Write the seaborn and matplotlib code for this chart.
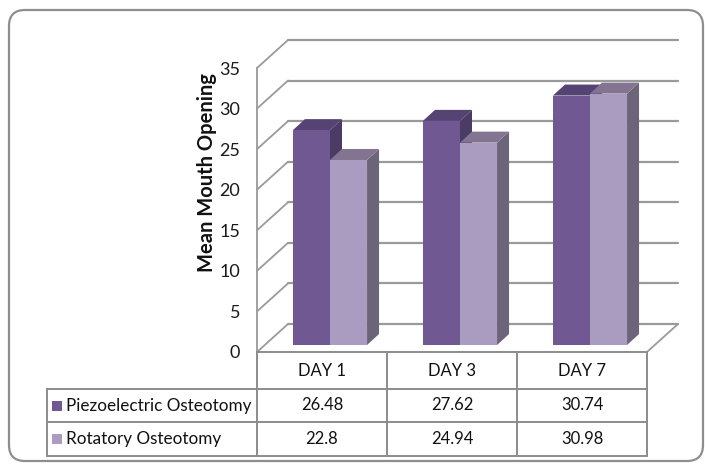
import matplotlib
matplotlib.use("Agg")
import matplotlib.pyplot as plt
import numpy as np
import pandas as pd
import seaborn as sns
from matplotlib.lines import Line2D
from matplotlib.patches import Polygon, Rectangle, FancyBboxPatch
from matplotlib.transforms import IdentityTransform, ScaledTranslation

# ---- data -------------------------------------------------------------
days = ["DAY 1", "DAY 3", "DAY 7"]
groups = ["Piezoelectric Osteotomy", "Rotatory Osteotomy"]
piezo = [26.48, 27.62, 30.74]
rotatory = [22.8, 24.94, 30.98]
y_ticks = [0, 5, 10, 15, 20, 25, 30, 35]
y_label = "Mean Mouth Opening"

# ---- style ------------------------------------------------------------
sns.set_theme(style="white")
plt.rcParams["font.family"] = ["Lato", "DejaVu Sans"]

front_cols = ["#705893", "#AA9BC0"]
top_cols = ["#544373", "#837492"]
side_cols = ["#4B3C66", "#6C6479"]
grid_col = "#9a9a9a"
table_col = "#8c8c8c"

W, H = 705, 466
fig = plt.figure(figsize=(W / 100, H / 100), dpi=100)
fig.patch.set_facecolor("white")
ID = IdentityTransform()


def P(x, y):
    """top-left pixel coordinates -> display coordinates"""
    return (x, H - y)


# rounded chart frame
frame = FancyBboxPatch(P(9, 461), 694, 451, boxstyle="round,pad=0,rounding_size=16",
                       transform=ID, fill=False, edgecolor="#8e8e8e", linewidth=1.6)
fig.add_artist(frame)

# front plane of the 3-D plot area
ax = fig.add_axes([257 / W, (H - 352) / H, 390 / W, 284 / H])
ax.patch.set_visible(False)

df = pd.DataFrame({
    "day": days * 2,
    "value": piezo + rotatory,
    "group": [groups[0]] * 3 + [groups[1]] * 3,
})
sns.barplot(data=df, x="day", y="value", hue="group", hue_order=groups,
            palette=front_cols, width=0.57, saturation=1, linewidth=0,
            errorbar=None, legend=False, ax=ax)
ax.set_xlim(-0.5, 2.5)
ax.set_ylim(0, 35)
ax.set_xlabel("")
ax.set_ylabel("")
ax.set_xticks([])
ax.set_yticks(y_ticks)
ax.set_yticklabels([str(t) for t in y_ticks], fontsize=13, color="#1a1a1a")
ax.tick_params(axis="y", length=0, pad=12)
for s in ["top", "right", "bottom"]:
    ax.spines[s].set_visible(False)
ax.spines["left"].set_color(grid_col)
ax.spines["left"].set_linewidth(1.3)

# depth geometry (pixels)
DX, DY = 31, 28          # floor / wall depth
BX, BY = 8, 7            # bars sit a little behind the front plane
EX, EY = 12, 11          # bar thickness

fig.canvas.draw()
tr = ax.transData


def disp(x, y):
    return tr.transform((x, y))


# walls and floor
x_left, x_right = -0.5, 2.5
for v in y_ticks:
    fx, fy = disp(x_left, v)
    ax.add_artist(Line2D([fx, fx + DX], [fy, fy + DY], transform=ID,
                         color=grid_col, lw=1.3, zorder=0.5, clip_on=False))
    rx, _ = disp(x_right, v)
    ax.add_artist(Line2D([fx + DX, rx + DX], [fy + DY, fy + DY], transform=ID,
                         color=grid_col, lw=1.6, zorder=0.5, clip_on=False))
rx, ry = disp(x_right, 0)
ax.add_artist(Line2D([rx, rx + DX], [ry, ry + DY], transform=ID,
                     color=grid_col, lw=1.3, zorder=0.5, clip_on=False))

# extrude the bars
shift = ScaledTranslation(BX / 100, BY / 100, fig.dpi_scale_trans)
bars = sorted(ax.patches, key=lambda p: p.get_x())
for i, bar in enumerate(bars):
    k = 0 if bar.get_facecolor()[0] < 0.55 else 1
    bar.set_transform(ax.transData + shift)
    bar.set_clip_on(False)
    z = 2 + i * 0.1
    bar.set_zorder(z + 0.05)
    bb = bar.get_window_extent()
    x0, y0, x1, y1 = bb.x0, bb.y0, bb.x1, bb.y1
    side = Polygon([(x1, y0), (x1 + EX, y0 + EY), (x1 + EX, y1 + EY), (x1, y1)],
                   closed=True, transform=ID, facecolor=side_cols[k],
                   edgecolor="none", zorder=z, clip_on=False)
    top = Polygon([(x0, y1), (x1, y1), (x1 + EX, y1 + EY), (x0 + EX, y1 + EY)],
                  closed=True, transform=ID, facecolor=top_cols[k],
                  edgecolor="none", zorder=z, clip_on=False)
    ax.add_artist(side)
    ax.add_artist(top)

# axis title
fig.text(207 / W, (H - 173) / H, y_label, rotation=90, ha="center", va="center",
         fontsize=14.5, fontweight="bold", color="#111111")

# ---- data table ---------------------------------------------------------
col_edges = [disp(x, 0)[0] for x in [-0.5, 0.5, 1.5, 2.5]]
t_left = 47
r_top, r_h, r1, r2 = 352, 389, 422, 456


def hline(xa, xb, y):
    fig.add_artist(Line2D([xa, xb], [H - y, H - y], transform=ID,
                          color=table_col, lw=1.4))


def vline(x, ya, yb):
    fig.add_artist(Line2D([x, x], [H - ya, H - yb], transform=ID,
                          color=table_col, lw=1.4))


hline(col_edges[0], col_edges[-1], r_top)
hline(t_left, col_edges[-1], r_h)
hline(t_left, col_edges[-1], r1)
hline(t_left, col_edges[-1], r2)
vline(t_left, r_h, r2)
for cx in col_edges:
    vline(cx, r_top, r2)

for i, d in enumerate(days):
    cx = (col_edges[i] + col_edges[i + 1]) / 2
    fig.text(cx / W, (H - (r_top + r_h) / 2) / H, d, ha="center", va="center",
             fontsize=12, color="#111111")

rows = [(groups[0], piezo, r_h, r1), (groups[1], rotatory, r1, r2)]
for k, (name, vals, ya, yb) in enumerate(rows):
    yc = (ya + yb) / 2
    fig.add_artist(Rectangle((52, H - yc - 5), 10, 10, transform=ID,
                             facecolor=front_cols[k], edgecolor="none"))
    fig.text(66 / W, (H - yc) / H, name, ha="left", va="center",
             fontsize=12.3, color="#111111")
    for i, v in enumerate(vals):
        cx = (col_edges[i] + col_edges[i + 1]) / 2
        fig.text(cx / W, (H - yc) / H, f"{v:g}", ha="center", va="center",
                 fontsize=12, color="#111111")

fig.savefig("out.png", dpi=100)
